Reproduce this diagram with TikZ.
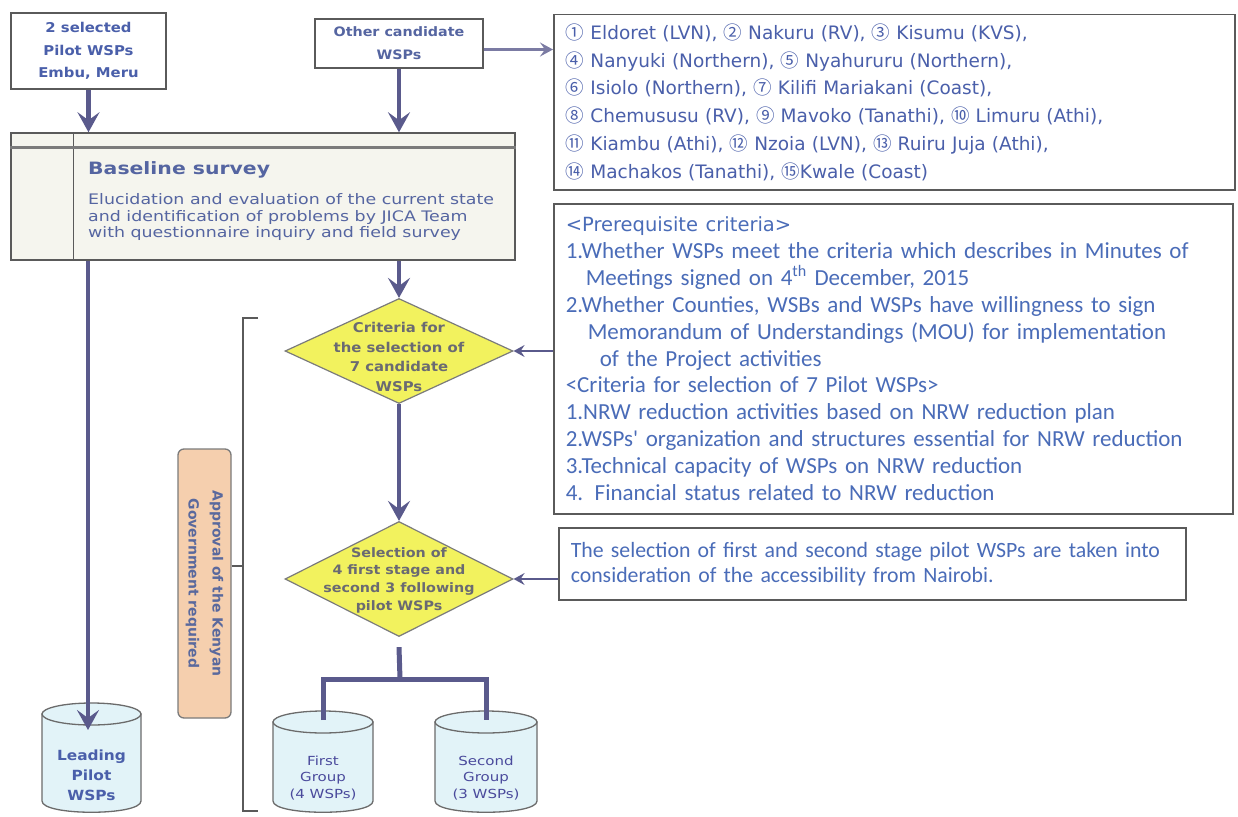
\documentclass[tikz,border=0pt]{standalone}
\usepackage{fontspec}
\setmainfont{Liberation Sans}
\newfontfamily\calfont{Carlito}
\newfontfamily\cjkfont{Noto Sans CJK JP}
\newfontfamily\dvs{DejaVu Sans}
\newfontfamily\dvsw{DejaVu Sans}[FakeStretch=1.1]
\newfontfamily\dvsww{DejaVu Sans}[FakeStretch=1.2]
\usetikzlibrary{shapes.geometric,arrows.meta}
\definecolor{tblue}{HTML}{4A5FAA}
\definecolor{cblue}{HTML}{4A6CB8}
\definecolor{arr}{HTML}{5A5A8C}
\definecolor{bord}{HTML}{5A5A5A}
\definecolor{dyel}{HTML}{F2F25E}
\definecolor{cylf}{HTML}{E2F3F8}
\definecolor{orf}{HTML}{F5CFAE}
\definecolor{basef}{HTML}{F5F5EE}
\definecolor{gtext}{HTML}{6A6A72}
\newcommand\cn[1]{{\cjkfont #1}}
\newcommand\drawcyl[4]{%
  \filldraw[cylst] (#1-#2,#3+11) -- (#1-#2,#4) .. controls (#1-#2,#4+15) and (#1+#2,#4+15) .. (#1+#2,#4) -- (#1+#2,#3+11) -- cycle;
  \filldraw[cylst] (#1,#3+11) ellipse [x radius=#2, y radius=11];
}
\begin{document}
\begin{tikzpicture}[x=1pt,y=-1pt,
  box/.style={draw=bord,line width=1.5pt,fill=white,inner sep=0pt},
  bigarrow/.style={draw=arr,line width=4.5pt,-{Stealth[length=20pt,width=22pt,inset=8pt]}},
  midarrow/.style={draw=arr!80,line width=3pt,-{Stealth[length=13pt,width=14pt,inset=5pt]}},
  thinarrow/.style={draw=arr,line width=2pt,-{Stealth[length=11pt,width=12pt,inset=4pt]}},
  tree/.style={draw=arr,line width=5pt},
  dia/.style={diamond,draw=bord!80,line width=1.2pt,fill=dyel,minimum width=228pt,minimum height=105pt,inner sep=0pt},
  cylst/.style={draw=bord!90,line width=1.3pt,fill=cylf},
  brk/.style={draw=bord,line width=1.5pt},
]
\useasboundingbox (0,0) rectangle (1238,816);
\fill[white] (0,0) rectangle (1238,816);

% top boxes
\node[box,minimum width=155pt,minimum height=76pt,align=center,text=tblue,font=\dvsw\bfseries\fontsize{13.5}{22.5}\selectfont] (sel) at (88.5,51) {2 selected\\Pilot WSPs\\Embu, Meru};
\node[box,minimum width=168pt,minimum height=49pt,align=center,text=tblue!80!gray,font=\dvsw\bfseries\fontsize{13}{23}\selectfont] (oth) at (399,43.5) {Other candidate\\WSPs};

\node[box,anchor=north west,text width=657pt,minimum height=175pt,align=left,inner xsep=12pt,text=tblue,font=\dvs\fontsize{18.5}{27.8}\selectfont] (list) at (553,14) {%
\cn{①} Eldoret (LVN), \cn{②} Nakuru (RV), \cn{③} Kisumu (KVS),\\
\cn{④} Nanyuki (Northern), \cn{⑤} Nyahururu (Northern),\\
\cn{⑥} Isiolo (Northern), \cn{⑦} Kilifi Mariakani (Coast),\\
\cn{⑧} Chemususu (RV), \cn{⑨} Mavoko (Tanathi), \cn{⑩} Limuru (Athi),\\
\cn{⑪} Kiambu (Athi), \cn{⑫} Nzoia (LVN), \cn{⑬} Ruiru Juja (Athi),\\
\cn{⑭} Machakos (Tanathi), \cn{⑮}Kwale (Coast)};

% baseline
\node[draw=bord,line width=1.5pt,fill=basef,minimum width=504pt,minimum height=127pt,inner sep=0pt] (base) at (263,196.5) {};
\draw[bord,line width=1.2pt] ([xshift=63pt]base.north west) -- ([xshift=63pt]base.south west);
\draw[bord!80,line width=3pt] ([yshift=-15pt]base.north west) -- ([yshift=-15pt]base.north east);
\node[anchor=west,inner sep=0pt,text=tblue!80!gray,font=\dvsww\bfseries\fontsize{17}{20}\selectfont] (bt1) at (88,170) {Baseline survey};
\node[anchor=west,inner sep=0pt,align=left,text=tblue!80!gray,font=\dvsww\fontsize{14.5}{16.7}\selectfont] (bt2) at (88,217) {Elucidation and evaluation of the current state\\and identification of problems by JICA Team\\with questionnaire inquiry and field survey};

% criteria
\node[box,anchor=north west,text width=655pt,minimum height=310pt,align=left,inner xsep=12pt,text=cblue,font=\calfont\fontsize{23}{26.9}\selectfont] (crit) at (553,203) {%
{\dvs\fontsize{19.5}{26.9}\selectfont <Prerequisite criteria>}\\
1.Whether WSPs meet the criteria which describes in Minutes of\\
\hspace*{20pt}Meetings signed on 4\textsuperscript{th} December, 2015\\
2.Whether Counties, WSBs and WSPs have willingness to sign\\
\hspace*{22pt}Memorandum of Understandings (MOU) for implementation\\
\hspace*{34pt}of the Project activities\\
<Criteria for selection of 7 Pilot WSPs>\\
1.NRW reduction activities based on NRW reduction plan\\
2.WSPs' organization and structures essential for NRW reduction\\
3.Technical capacity of WSPs on NRW reduction\\
4. Financial status related to NRW reduction};

\node[box,anchor=north west,text width=603pt,minimum height=72pt,align=left,inner xsep=12pt,text=cblue,font=\calfont\fontsize{21.8}{25}\selectfont] (nai) at (558,527) {The selection of first and second stage pilot WSPs are taken into\\consideration of the accessibility from Nairobi.};

% diamonds
\node[dia] (d1) at (399,351) {};
\node[align=center,inner sep=0pt,text=gtext,font=\dvsw\bfseries\fontsize{13.5}{19.5}\selectfont] (d1t) at (399,357) {Criteria for\\the selection of\\7 candidate\\WSPs};
\node[dia,minimum height=115pt] (d2) at (399,579) {};
\node[align=center,inner sep=0pt,text=gtext,font=\dvsw\bfseries\fontsize{13}{17.7}\selectfont] (d2t) at (399,580) {Selection of\\4 first stage and\\second 3 following\\pilot WSPs};

% approval box and bracket
\node[draw=bord!80,line width=1.3pt,fill=orf,rounded corners=6pt,minimum width=53pt,minimum height=269pt,inner sep=0pt] (appr) at (204.5,583.5) {};
\node[rotate=-90,align=center,inner sep=0pt,text=tblue!70!gray,font=\dvs\bfseries\fontsize{14}{24}\selectfont] (apprt) at (appr) {Approval of the Kenyan\\Government required};
\draw[brk] (258,318) -- (243,318) -- (243,811) -- (258,811);
\coordinate (brkm) at (243,566);
\draw[brk] (brkm -| appr.east) -- (brkm);

% cylinders
\drawcyl{91.5}{49.5}{703}{801}
\drawcyl{323}{50}{711}{801}
\drawcyl{486}{51}{711}{801}
\node[align=center,inner sep=0pt,text=tblue,font=\dvsw\bfseries\fontsize{14}{20}\selectfont] (leadt) at (91.5,775) {Leading\\Pilot\\WSPs};
\node[align=center,inner sep=0pt,text=gtext!70!blue,font=\dvsww\fontsize{12.5}{16.5}\selectfont] (g1t) at (323,778) {First\\Group\\(4 WSPs)};
\node[align=center,inner sep=0pt,text=gtext!70!blue,font=\dvsww\fontsize{12.5}{16.5}\selectfont] (g2t) at (486,778) {Second\\Group\\(3 WSPs)};
\coordinate (leadtip) at (88,730);
\coordinate (g1top) at (323,720);
\coordinate (g2top) at (486,720);
\coordinate (bj) at (400,679);

% connectors
\draw[bigarrow] (sel.south) -- (sel.south |- base.north);
\draw[bigarrow] (oth.south) -- (oth.south |- base.north);
\draw[midarrow] ([yshift=-6pt]oth.east) -- ([yshift=-6pt]oth.east -| list.west);
\draw[bigarrow] (base.south -| d1.north) -- (d1.north);
\draw[bigarrow] (d1.south) -- (d2.north);
\draw[bigarrow] (base.south -| leadtip) -- (leadtip);
\draw[thinarrow] (crit.west |- d1.east) -- (d1.east);
\draw[thinarrow] (nai.west |- d2.east) -- (d2.east);
\draw[tree] ([yshift=-10pt]d2.south) -- (bj);
\draw[tree] (g1top) |- (bj) -| (g2top);
\end{tikzpicture}
\end{document}
